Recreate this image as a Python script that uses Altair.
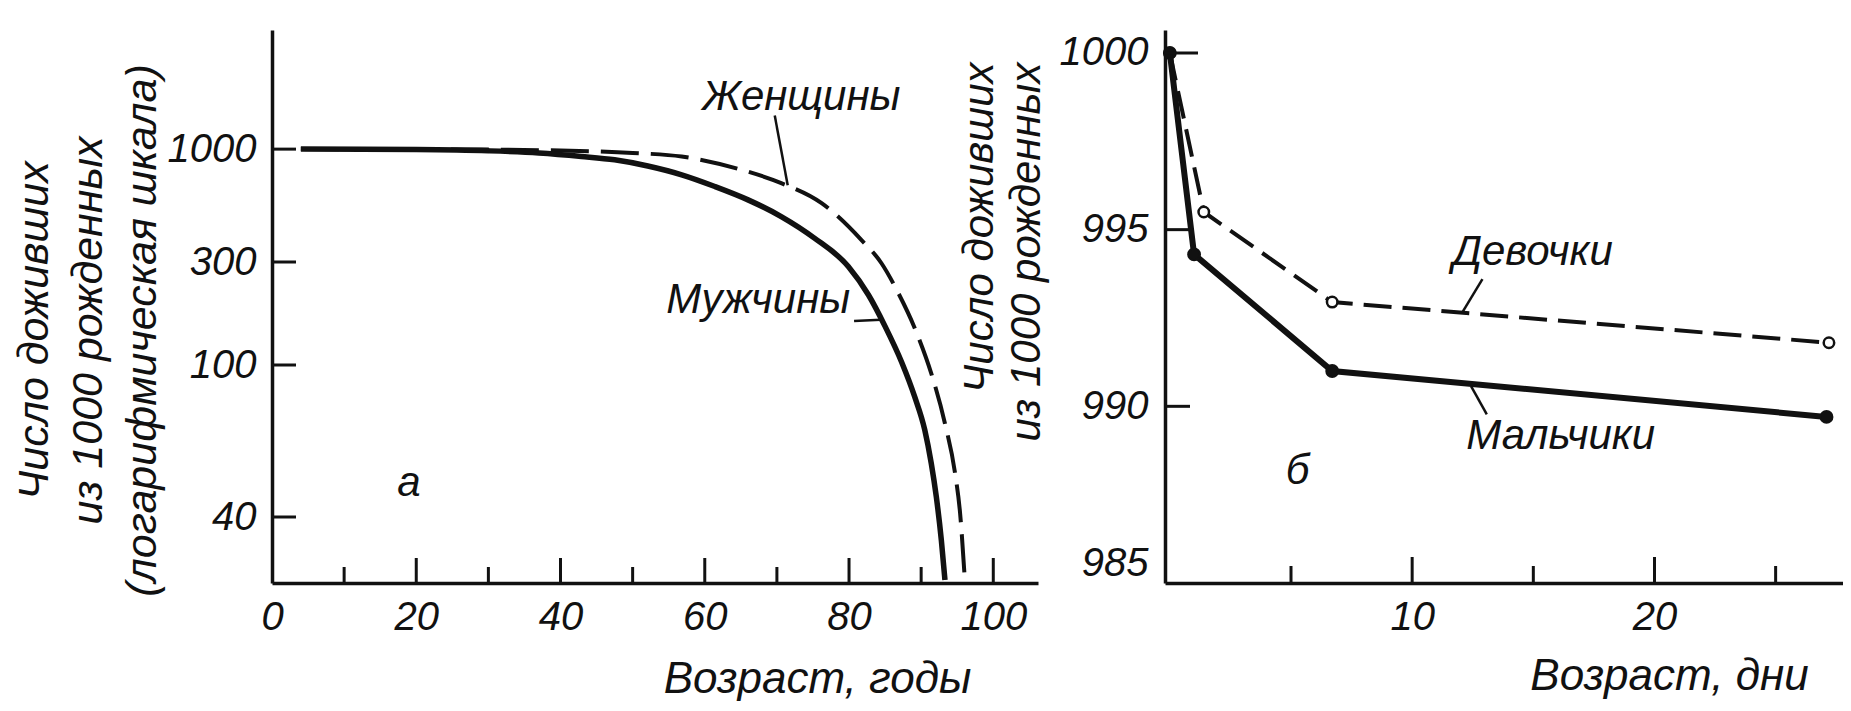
import altair as alt
import pandas as pd

# ---------------- Panel a: survival by age (log scale) ----------------
age_men = [4, 20, 30, 37, 42.9, 47.5, 52.1, 56.8, 61.4, 66.0, 70.6, 75.2, 79.9, 82.7, 85.0,
           87.3, 89.1, 90.5, 91.4, 92.1, 92.8, 93.3]
surv_men = [1000, 995, 982, 960, 925, 892, 835, 760, 671, 582, 487, 387, 286, 211, 151,
            103, 82.6, 67.6, 55.3, 45.2, 34.8, 27.4]
age_women = [4, 25, 40, 50, 56.8, 65.1, 70.6, 76.2, 81.7, 84.5, 86.6, 89.6, 91.4, 93.3,
             94.7, 95.4, 96.0]
surv_women = [1000, 997, 985, 960, 924, 802, 696, 562, 380, 296, 223, 135, 95.1, 70.3,
              52.1, 40.9, 28.5]

# ---------------- Panel b: survival by days ----------------
days_boys = [0, 1.0, 6.7, 27.1]
boys = [1000, 994.3, 991.0, 989.7]
days_girls = [0, 1.4, 6.7, 27.2]
girls = [1000, 995.5, 992.95, 991.8]

# axis ticks / labels
xa_labels = [0, 20, 40, 60, 80, 100]
xa_major = [20, 40, 60, 80, 100]
xa_minor = [10, 30, 50, 70, 90]
ya_labels = [1000, 300, 100, 40]
xb_labels = [10, 20]
xb_major = [10, 20]
xb_minor = [5, 15, 25]
yb_labels = [1000, 995, 990, 985]
yb_tick_len = [33, 24, 25]

# annotations
a_text = ["Женщины", "Мужчины", "а"]
a_text_x = [73.4, 67.4, 19.0]
a_text_y = [1738, 200, 49.1]
a_lead_x = [69.7, 80.7]
a_lead_y = [1430, 160]
a_lead_x2 = [71.5, 84.4]
a_lead_y2 = [680, 162]

b_text = ["Девочки", "Мальчики", "б"]
b_text_x = [14.97, 16.13, 5.27]
b_text_y = [994.37, 989.16, 988.18]
b_lead_x = [12.9, 13.08]
b_lead_y = [993.6, 989.77]
b_lead_x2 = [12.07, 12.43]
b_lead_y2 = [992.66, 990.57]

TXT = "Liberation Sans"
BLACK = "#111111"

WA, HA = 766, 553
WB, HB = 678, 553

xa_scale = alt.Scale(domain=[0, 106.2], nice=False, zero=False)
ya_scale = alt.Scale(type="log", domain=[26.9, 40, 100, 3563], range=[HA, 487, 335, 0], nice=False)
xb_scale = alt.Scale(domain=[-0.2, 27.78], nice=False, zero=False)
yb_scale = alt.Scale(domain=[985, 1000.65], nice=False, zero=False)

common_axis = dict(
    ticks=False, tickSize=0, grid=False, domainColor=BLACK, domainWidth=3.5,
    labelFont=TXT, labelFontSize=40, labelFontStyle="italic", labelColor=BLACK,
    labelOverlap=False, titleFont=TXT, titleFontStyle="italic", titleFontWeight="normal",
    titleColor=BLACK, format="d",
)

xa_axis = alt.Axis(values=xa_labels, title="Возраст, годы", labelPadding=14, labelFlush=False,
                   titleFontSize=44, titleX=545, titleY=109, titleAlign="center",
                   titleBaseline="alphabetic", labelAngle=0, **common_axis)
ya_axis = alt.Axis(values=ya_labels, title=["Число доживших", "из 1000 рожденных", "(логарифмическая шкала)"],
                   labelPadding=16, labelFlush=False, titleFontSize=43, titleAngle=270,
                   titleX=-238, titleY=300, titleAlign="center", titleBaseline="middle",
                   titleLineHeight=54, **common_axis)
xb_axis = alt.Axis(values=xb_labels, title="Возраст,  дни", labelPadding=14, labelFlush=False,
                   titleFontSize=44, titleX=504, titleY=106, titleAlign="center",
                   titleBaseline="alphabetic", labelAngle=0, **common_axis)
yb_axis = alt.Axis(values=yb_labels, title=["Число доживших", "из 1000 рожденных"],
                   labelPadding=17, labelFlush=True, titleFontSize=42, titleAngle=270,
                   titleX=-186, titleY=32, titleAlign="right", titleBaseline="middle",
                   titleLineHeight=47, **common_axis)


def XA(f):
    return alt.X(f, scale=xa_scale, axis=xa_axis)


def YA(f):
    return alt.Y(f, scale=ya_scale, axis=ya_axis)


def XB(f):
    return alt.X(f, scale=xb_scale, axis=xb_axis)


def YB(f):
    return alt.Y(f, scale=yb_scale, axis=yb_axis)


# ---------- Panel a ----------
dfa_m = pd.DataFrame({"age": age_men, "n": surv_men})
dfa_w = pd.DataFrame({"age": age_women, "n": surv_women})

women_a = alt.Chart(dfa_w).mark_line(color=BLACK, strokeWidth=4, strokeDash=[38, 12],
                                     interpolate="monotone").encode(x=XA("age:Q"), y=YA("n:Q"))
men_a = alt.Chart(dfa_m).mark_line(color=BLACK, strokeWidth=5.5, interpolate="monotone").encode(
    x=XA("age:Q"), y=YA("n:Q"))
xa_maj = alt.Chart(pd.DataFrame({"age": xa_major})).mark_rule(color=BLACK, strokeWidth=3).encode(
    x=XA("age:Q"), y=alt.value(HA), y2=alt.value(HA - 25))
xa_min = alt.Chart(pd.DataFrame({"age": xa_minor})).mark_rule(color=BLACK, strokeWidth=3).encode(
    x=XA("age:Q"), y=alt.value(HA), y2=alt.value(HA - 16))
ya_tk = alt.Chart(pd.DataFrame({"n": ya_labels})).mark_rule(color=BLACK, strokeWidth=3).encode(
    y=YA("n:Q"), x=alt.value(0), x2=alt.value(24))
lead_a = alt.Chart(pd.DataFrame({"age": a_lead_x, "n": a_lead_y, "x2": a_lead_x2, "y2": a_lead_y2})).mark_rule(
    color=BLACK, strokeWidth=2.5).encode(x=XA("age:Q"), y=YA("n:Q"), x2="x2:Q", y2="y2:Q")
text_a = alt.Chart(pd.DataFrame({"t": a_text, "age": a_text_x, "n": a_text_y})).mark_text(
    font=TXT, fontSize=42, fontStyle="italic", color=BLACK, align="center", baseline="middle").encode(
    x=XA("age:Q"), y=YA("n:Q"), text="t:N")

panel_a = alt.layer(women_a, men_a, xa_maj, xa_min, ya_tk, lead_a, text_a).properties(width=WA, height=HA)

# ---------- Panel b ----------
dfb_b = pd.DataFrame({"d": days_boys, "n": boys})
dfb_g = pd.DataFrame({"d": days_girls, "n": girls})

girls_line = alt.Chart(dfb_g).mark_line(color=BLACK, strokeWidth=4, strokeDash=[28, 11]).encode(
    x=XB("d:Q"), y=YB("n:Q"))
boys_line = alt.Chart(dfb_b).mark_line(color=BLACK, strokeWidth=6).encode(x=XB("d:Q"), y=YB("n:Q"))
girls_pts = alt.Chart(dfb_g).mark_point(shape="circle", filled=True, fill="white", stroke=BLACK,
                                       strokeWidth=2.5, size=110, opacity=1).encode(x=XB("d:Q"), y=YB("n:Q"))
boys_pts = alt.Chart(dfb_b).mark_point(shape="circle", filled=True, fill=BLACK, stroke=BLACK,
                                      size=140, opacity=1).encode(x=XB("d:Q"), y=YB("n:Q"))
xb_maj = alt.Chart(pd.DataFrame({"d": xb_major})).mark_rule(color=BLACK, strokeWidth=3).encode(
    x=XB("d:Q"), y=alt.value(HB), y2=alt.value(HB - 26))
xb_min = alt.Chart(pd.DataFrame({"d": xb_minor})).mark_rule(color=BLACK, strokeWidth=3).encode(
    x=XB("d:Q"), y=alt.value(HB), y2=alt.value(HB - 17))
yb_tks = [
    alt.Chart(pd.DataFrame({"n": [v]})).mark_rule(color=BLACK, strokeWidth=3).encode(
        y=YB("n:Q"), x=alt.value(0), x2=alt.value(L))
    for v, L in zip(yb_labels[:3], yb_tick_len)
]
lead_b = alt.Chart(pd.DataFrame({"d": b_lead_x, "n": b_lead_y, "x2": b_lead_x2, "y2": b_lead_y2})).mark_rule(
    color=BLACK, strokeWidth=2.5).encode(x=XB("d:Q"), y=YB("n:Q"), x2="x2:Q", y2="y2:Q")
text_b = alt.Chart(pd.DataFrame({"t": b_text, "d": b_text_x, "n": b_text_y})).mark_text(
    font=TXT, fontSize=42, fontStyle="italic", color=BLACK, align="center", baseline="middle").encode(
    x=XB("d:Q"), y=YB("n:Q"), text="t:N")

panel_b = alt.layer(girls_line, boys_line, girls_pts, boys_pts, xb_maj, xb_min, *yb_tks,
                    lead_b, text_b).properties(width=WB, height=HB)

chart = alt.hconcat(panel_a, panel_b, spacing=127, bounds="flush").properties(
    padding={"left": 5, "top": 22, "right": 0, "bottom": 0},
    background="white",
).configure_view(stroke=None)

chart.save("out.html", embed_options={"renderer": "svg", "actions": False})
